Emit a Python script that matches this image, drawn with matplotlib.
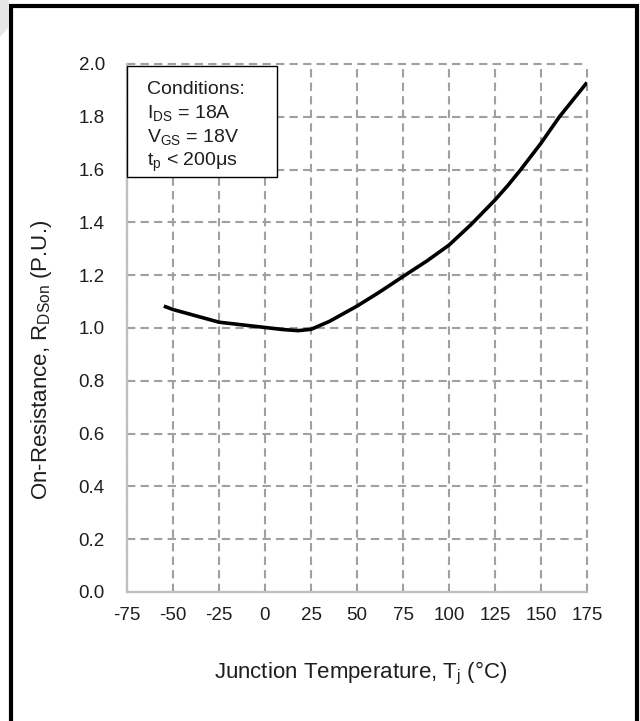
import matplotlib
matplotlib.use('Agg')
import matplotlib.pyplot as plt
from matplotlib.patches import Rectangle, Polygon

# ---------------------------------------------------------------------------
# Data
# ---------------------------------------------------------------------------
TEMP_C = [-55, -50, -25, 0, 10, 18, 25, 35, 50, 62, 75, 88, 100, 112, 125,
          132, 139, 150, 160, 175]
RDSON_PU = [1.083, 1.07, 1.022, 1.002, 0.994, 0.99, 0.995, 1.025, 1.083,
            1.135, 1.195, 1.254, 1.314, 1.392, 1.485, 1.54, 1.60, 1.70, 1.80, 1.93]

X_TICKS = [-75, -50, -25, 0, 25, 50, 75, 100, 125, 150, 175]
Y_TICKS = [0.0, 0.2, 0.4, 0.6, 0.8, 1.0, 1.2, 1.4, 1.6, 1.8, 2.0]

CONDITIONS = [
    'Conditions:',
    r'I$_{DS}$ = 18A',
    r'V$_{GS}$ = 18V',
    r't$_{p}$ < 200μs',
]

GRID = '#a0a0a0'
SPINE = '#bfbfbf'
TXT = '#1e1e1e'

plt.rcParams['font.family'] = ['Liberation Sans', 'DejaVu Sans']
plt.rcParams['mathtext.default'] = 'regular'

W, H = 640, 721
fig = plt.figure(figsize=(W / 100, H / 100), dpi=100)
ax = fig.add_axes([127 / W, 1 - 592 / H, 460 / W, 528 / H])

ax.plot(TEMP_C, RDSON_PU, color='black', lw=2.6, solid_capstyle='butt',
        solid_joinstyle='round', zorder=4)

ax.set_xlim(-75, 175)
ax.set_ylim(0, 2.0)
ax.set_xticks(X_TICKS)
ax.set_yticks(Y_TICKS)
ax.set_xticklabels([str(v) for v in X_TICKS])
ax.set_yticklabels([f'{v:.1f}' for v in Y_TICKS])
ax.tick_params(axis='both', length=0, labelsize=13.5, colors=TXT)
ax.tick_params(axis='x', pad=11)
ax.tick_params(axis='y', pad=16)

ax.set_axisbelow(True)
ax.grid(True, color=GRID, linestyle=(0, (4, 2.5)), lw=1.5)
for gl in ax.get_xgridlines() + ax.get_ygridlines():
    gl.set_clip_on(False)

for side in ('top', 'right'):
    ax.spines[side].set_visible(False)
for side in ('left', 'bottom'):
    ax.spines[side].set_color(SPINE)
    ax.spines[side].set_linewidth(1.6)
    ax.spines[side].set_zorder(3)

ax.set_xlabel(r'Junction Temperature, T$_{j}$ (°C)', fontsize=16, color=TXT)
ax.xaxis.label.set_va('center')
ax.xaxis.set_label_coords(0.507, -0.155)
ax.set_ylabel(r'On-Resistance, R$_{DSon}$ (P.U.)', fontsize=16, color=TXT)
ax.yaxis.label.set_va('center')
ax.yaxis.set_label_coords(-0.185, 0.44)

# conditions box
ax.add_patch(Rectangle((0, 0.786), 0.326, 0.21, transform=ax.transAxes,
                       facecolor='white', edgecolor='black', lw=1.0,
                       zorder=5, clip_on=False))
for line, yy in zip(CONDITIONS, [0.943, 0.898, 0.852, 0.807]):
    ax.text(0.043, yy, line, transform=ax.transAxes, ha='left', va='baseline',
            fontsize=14, color=TXT, zorder=6)

# outer frame of the figure panel
fig.patches.append(Rectangle((11 / W, -0.02), 626 / W, 1.02 - 6 / H,
                             transform=fig.transFigure, fill=False,
                             edgecolor='black', lw=3.0, zorder=10))
fig.patches.append(Polygon([(0, 1), (9 / W, 1), (9 / W, 1 - 27 / H), (0, 1 - 37 / H)],
                           closed=True, transform=fig.transFigure,
                           facecolor='#e6e6e6', edgecolor='none', zorder=11))

fig.savefig('out.png', dpi=100, facecolor='white')
